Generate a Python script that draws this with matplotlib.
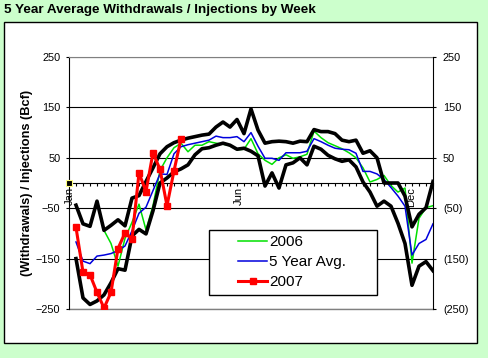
"""Weekly storage withdrawals / injections: 5 year band, average, 2006 and 2007."""

import numpy as np
import matplotlib
matplotlib.use("Agg")
import matplotlib.pyplot as plt
from matplotlib.patches import Rectangle


# week numbers 1..52 (Bcf per week)
weeks = np.arange(1, 53)

max_5yr = [-44, -81, -86, -36, -94, -84, -73, -85, -30, -25,
           3, 30, 58, 72, 80, 85, 89, 92, 95, 97,
           111, 121, 111, 126, 98, 147, 105, 79, 82, 83,
           82, 79, 83, 82, 106, 102, 102, 98, 85, 82,
           85, 59, 64, 50, 0, 0, 0, -26, -87, -62,
           -49, 3]

min_5yr = [-150, -228, -241, -234, -222, -198, -170, -173, -105, -92,
           -101, -55, 0, 10, 22, 28, 36, 56, 68, 70,
           75, 79, 75, 67, 69, 63, 54, -6, 20, -10,
           36, 40, 50, 36, 73, 67, 55, 48, 43, 46,
           32, 2, -18, -46, -36, -46, -80, -120, -203, -165,
           -156, -174]

avg_5yr = [-117, -155, -160, -145, -143, -140, -134, -125, -95, -60,
           -48, -15, 18, 17, 58, 72, 76, 79, 82, 85,
           93, 90, 90, 92, 82, 100, 73, 49, 49, 45,
           60, 60, 60, 63, 88, 82, 75, 69, 67, 66,
           59, 23, 23, 18, 7, -9, -26, -46, -143, -120,
           -112, -81]

y2006 = [-44, -81, -86, -36, -94, -120, -165, -110, -78, -42,
         -93, -45, 25, 50, 70, 79, 62, 75, 75, 82,
         79, 77, 74, 66, 67, 88, 58, 45, 37, 50,
         56, 49, 52, 57, 103, 90, 80, 74, 68, 60,
         50, 30, 2, 7, 15, -5, -18, -10, -159, -70,
         -49, -45]

y2007 = [-88, -177, -182, -217, -248, -217, -130, -99, -111, 20,
         -17, 60, 27, -45, 24, 88]

series_names = ["2006", "5 Year Avg.", "2007"]
month_labels = ["Jan", "Jun", "Dec"]
month_weeks = [0.1, 24.3, 48.9]
y_ticks = [-250, -150, -50, 50, 150, 250]
right_labels = ["(250)", "(150)", "(50)", "50", "150", "250"]

green = "#00e000"
blue = "#0000dd"
red = "#ff0000"

plt.rcParams["font.family"] = ["Liberation Sans", "DejaVu Sans"]

W, H = 489, 358
fig = plt.figure(figsize=(W / 100, H / 100), dpi=100, facecolor="#ccffcc")

# white chart area with black border
fig.add_artist(Rectangle((4 / W, 15 / H), 473 / W, 321 / H, transform=fig.transFigure,
                         facecolor="white", edgecolor="black", lw=1, zorder=0))

fig.text(4 / W, 1 - 10 / H, "5 Year Average Withdrawals / Injections by Week",
         fontsize=9.7, fontweight="bold", ha="left", va="center")

ax = fig.add_axes([69 / W, 49 / H, 364 / W, 252 / H])
ax.set_xlim(0, 52)
ax.set_ylim(-250, 250)

l2006, = ax.plot(weeks, y2006, color=green, lw=1.1, zorder=3)
lavg, = ax.plot(weeks, avg_5yr, color=blue, lw=1.1, zorder=3.1)
ax.plot(weeks, max_5yr, color="black", lw=2.6, zorder=3.2)
ax.plot(weeks, min_5yr, color="black", lw=2.6, zorder=3.2)
l2007, = ax.plot(weeks[:len(y2007)], y2007, color=red, lw=2.2, marker="s", ms=4.5,
                 zorder=3.5)

# axes and grid
ax.spines["bottom"].set_position(("data", 0))
ax.spines["bottom"].set_color("black")
ax.spines["top"].set_color("#808080")
ax.spines["right"].set_visible(False)
ax.axhline(-250, color="#808080", lw=1, zorder=2.5, clip_on=False)
ax.set_yticks(y_ticks)
ax.yaxis.grid(True, color="black", lw=0.8)
ax.set_axisbelow(True)
ax.tick_params(axis="y", direction="out", length=2.4, width=0.8, labelsize=7.8, pad=3.9)

ax.set_xticks(np.arange(0, 53), minor=True)
ax.set_xticks(month_weeks)
ax.set_xticklabels(month_labels, rotation=90)
ax.tick_params(axis="x", which="minor", direction="out", length=2.5, width=0.8)
ax.tick_params(axis="x", which="major", length=0, labelsize=8, pad=3)

ax2 = ax.twinx()
ax2.set_ylim(-250, 250)
ax2.set_yticks(y_ticks)
ax2.set_yticklabels(right_labels)
for s in ["top", "bottom", "left"]:
    ax2.spines[s].set_visible(False)
ax2.tick_params(axis="y", direction="out", length=2.4, width=0.8, labelsize=7.8, pad=4.8)

fig.text(27 / W, (H - 183) / H, "(Withdrawals) / Injections (Bcf)", rotation=90,
         fontsize=9.2, fontweight="bold", ha="center", va="center")

# selected-axis handle at the origin
ax.plot(ax.get_xlim()[0], 0, marker="s", ms=5, mfc="black", mec="#ffff80", mew=0.8,
        clip_on=False, zorder=6)

# legend box
ax.add_patch(Rectangle(((209 - 69) / 364, (309 - 295) / 252), 168 / 364, 65 / 252,
                       transform=ax.transAxes, facecolor="white", edgecolor="black",
                       lw=1, zorder=4.5))
leg = ax.legend([l2006, lavg, l2007], series_names, loc="upper left",
                bbox_to_anchor=((238 - 69) / 364, (309 - 235) / 252),
                borderpad=0, borderaxespad=0, handlelength=1.9, handletextpad=0.15,
                labelspacing=0.4, fontsize=11, frameon=False)
leg.set_zorder(5)

fig.savefig("out.png", dpi=100, facecolor=fig.get_facecolor())
